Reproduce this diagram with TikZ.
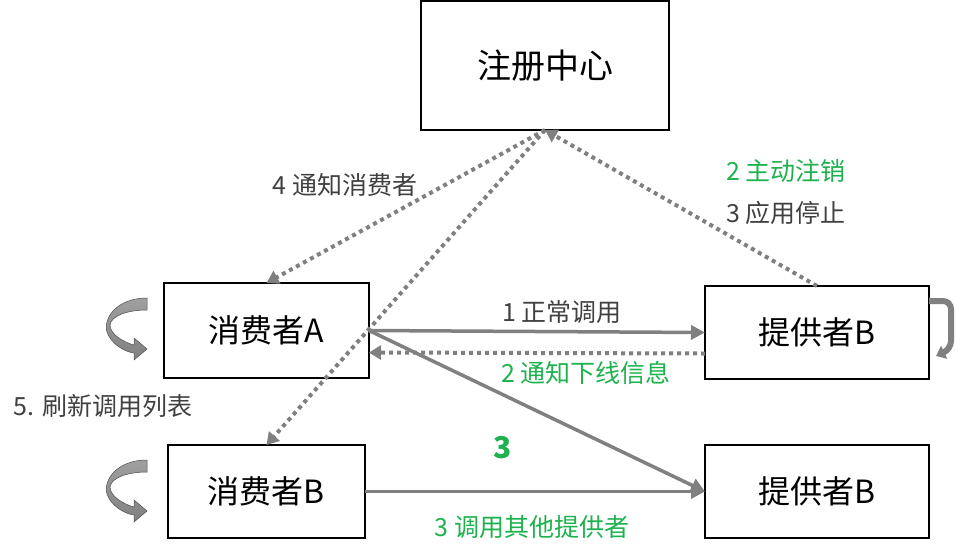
\documentclass[tikz,border=0pt]{standalone}
\usepackage{fontspec}
\setmainfont{Noto Sans CJK SC}
\usetikzlibrary{arrows.meta}

\definecolor{arrowgray}{RGB}{128,128,128}
\definecolor{textgray}{RGB}{64,64,64}
\definecolor{okgreen}{RGB}{30,178,78}

\tikzset{
  box/.style={draw, line width=2pt, inner sep=0pt, outer sep=0pt,
    font=\fontsize{32}{38}\selectfont},
  callarrow/.style={draw=arrowgray, line width=3.5pt,
    -{Triangle[length=14pt,width=14pt]}},
  dotarrow/.style={draw=arrowgray, line width=4pt, dash pattern=on 4pt off 4pt,
    -{Triangle[length=12pt,width=14pt]}},
  note/.style={font=\fontsize{25}{29}\selectfont, text=textgray, inner sep=1pt},
  greennote/.style={note, text=okgreen},
}

\begin{document}
\begin{tikzpicture}[x=1pt, y=-1pt]
  \useasboundingbox (0,0) rectangle (955,558);

  % ノードの定義
  \node[box, minimum width=248pt, minimum height=129pt, font=\fontsize{34}{40}\selectfont]
    (reg) at (545,65.5) {注册中心};
  \node[box, minimum width=205pt, minimum height=95pt] (cA) at (266.5,330.5) {消费者A};
  \node[box, minimum width=224pt, minimum height=93pt] (pA) at (817,332.5) {提供者B};
  \node[box, minimum width=197pt, minimum height=93pt] (cB) at (266.5,491.5) {消费者B};
  \node[box, minimum width=224pt, minimum height=93pt] (pB) at (817,491.5) {提供者B};

  % 呼び出し(実線)
  \draw[callarrow] (cA.east) -- (pA.west);
  \draw[callarrow] (cA.east) -- (pB.west);
  \draw[callarrow] (cB.east) -- (pB.west);
  \draw[dotarrow] ([yshift=-21pt]pA.west) -- ([yshift=-22pt]cA.east);

  % 登録センターとの通知(点線)
  \draw[dotarrow] (pA.north) -- (reg.south);
  \draw[dotarrow] (reg.south) -- (cA.north);
  \draw[dotarrow] (reg.south) -- (cB.north);

  % 提供者Bの停止
  \coordinate (loopEnd) at (936,356);
  \draw[draw=arrowgray, line width=6pt, rounded corners=8pt, -{Triangle[length=9pt,width=14pt]}]
    ([yshift=-15pt]pA.north east) -- (951,301) -- (951,349) -- (loopEnd);

  % 呼び出しリストの更新
  \foreach \yc in {330,492} {
    \shadedraw[top color=arrowgray!75, bottom color=arrowgray, draw=arrowgray!60!black,
      line width=0.5pt, shift={(125,\yc)}]
      (22,-32) .. controls (-8,-32) and (-22,-12) .. (-18,2)
      .. controls (-14,14) and (0,22) .. (9,23) -- (9,30) -- (22,19) -- (9,8) -- (9,15)
      .. controls (-2,12) and (-15,4) .. (-15,-5)
      .. controls (-14,-14) and (2,-20) .. (22,-20) -- cycle;
  }

  % ラベル
  \node[note] (l4) at (345,185) {4 通知消费者};
  \node[greennote] (l2a) at (786,171) {2 主动注销};
  \node[note] (l3a) at (786,213) {3 应用停止};
  \node[note] (l1) at (562,312) {1 正常调用};
  \node[greennote] (l2b) at (586,373) {2 通知下线信息};
  \node[greennote, font=\fontsize{30}{34}\selectfont\bfseries] (l3) at (503,448) {3};
  \node[greennote] (l3b) at (532,527) {3 调用其他提供者};
  \node[note] (l5) at (103,406) {5. 刷新调用列表};
\end{tikzpicture}
\end{document}
